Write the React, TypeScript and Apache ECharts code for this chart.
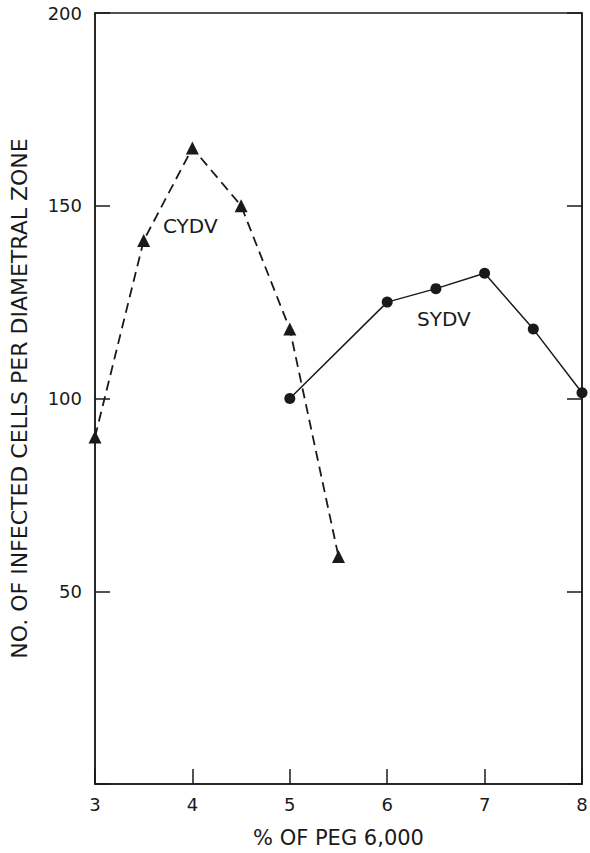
import React, { useEffect, useRef } from "react";
import * as echarts from "echarts";

const cydvX = [3, 3.5, 4, 4.5, 5, 5.5];
const cydvY = [90, 141, 165, 150, 118, 59];
const sydvX = [5, 6, 6.5, 7, 7.5, 8];
const sydvY = [100, 125, 128.5, 132.5, 118, 101.5];
const xTicks = [3, 4, 5, 6, 7, 8];
const yTicks = [0, 50, 100, 150, 200];
const xTitle = "% OF PEG 6,000";
const yTitle = "NO. OF INFECTED CELLS PER DIAMETRAL ZONE";
const seriesNames = ["CYDV", "SYDV"];

const FONT = "DejaVu Sans";
const INK = "#1a1a1a";

export default function App() {
  const ref = useRef<HTMLDivElement>(null);
  useEffect(() => {
    if (!ref.current) return;
    const chart = echarts.init(ref.current, undefined, { renderer: "svg" });
    const tickLen = 15;
    chart.setOption({
      animation: false,
      backgroundColor: "#ffffff",
      grid: {
        left: 95,
        right: 8,
        top: 13,
        bottom: 69,
        containLabel: false,
        outerBoundsMode: "none",
        show: true,
        borderColor: INK,
        borderWidth: 1.5,
      },
      xAxis: [
        {
          type: "value",
          min: xTicks[0],
          max: xTicks[xTicks.length - 1],
          interval: 1,
          position: "bottom",
          name: xTitle,
          nameLocation: "middle",
          nameGap: 43,
          nameTextStyle: { fontFamily: FONT, fontSize: 21, color: INK },
          axisLine: { show: true, lineStyle: { color: INK, width: 1.5 } },
          axisTick: { show: true, inside: true, length: tickLen, lineStyle: { color: INK, width: 1.5 } },
          axisLabel: { fontFamily: FONT, fontSize: 18, color: INK, margin: 11 },
          splitLine: { show: false },
        },
      ],
      yAxis: [
        {
          type: "value",
          min: yTicks[0],
          max: yTicks[yTicks.length - 1],
          interval: 50,
          position: "left",
          name: yTitle,
          nameLocation: "middle",
          nameGap: 65,
          nameTextStyle: { fontFamily: FONT, fontSize: 22, color: INK },
          axisLine: { show: true, lineStyle: { color: INK, width: 1.5 } },
          axisTick: { show: true, inside: true, length: tickLen, lineStyle: { color: INK, width: 1.5 } },
          axisLabel: {
            fontFamily: FONT,
            fontSize: 18,
            color: INK,
            margin: 13,
            formatter: (v: number) => (v === 0 ? "" : String(v)),
          },
          splitLine: { show: false },
        },
        {
          type: "value",
          min: yTicks[0],
          max: yTicks[yTicks.length - 1],
          interval: 50,
          position: "right",
          axisLine: { show: true, lineStyle: { color: INK, width: 1.5 } },
          axisTick: { show: true, inside: true, length: tickLen, lineStyle: { color: INK, width: 1.5 } },
          axisLabel: { show: false },
          splitLine: { show: false },
        },
      ],
      series: [
        {
          name: seriesNames[0],
          type: "line",
          data: cydvX.map((x, i) => [x, cydvY[i]]),
          symbol: "triangle",
          symbolSize: 13,
          itemStyle: { color: INK },
          lineStyle: { color: INK, width: 1.8, type: [10, 6] },
          label: { show: false },
          z: 3,
        },
        {
          name: seriesNames[1],
          type: "line",
          data: sydvX.map((x, i) => [x, sydvY[i]]),
          symbol: "circle",
          symbolSize: 11,
          itemStyle: { color: INK },
          lineStyle: { color: INK, width: 1.5, type: "solid" },
          z: 3,
        },
      ],
      graphic: [
        {
          type: "text",
          left: 163,
          top: 216,
          style: { text: seriesNames[0], fontFamily: FONT, fontSize: 20, fill: INK },
        },
        {
          type: "text",
          left: 417,
          top: 309,
          style: { text: seriesNames[1], fontFamily: FONT, fontSize: 20, fill: INK },
        },
      ],
    });
    return () => chart.dispose();
  }, []);
  return (
    <div
      ref={ref}
      style={{ position: "fixed", left: 0, top: 0, width: 590, height: 853 }}
    />
  );
}
